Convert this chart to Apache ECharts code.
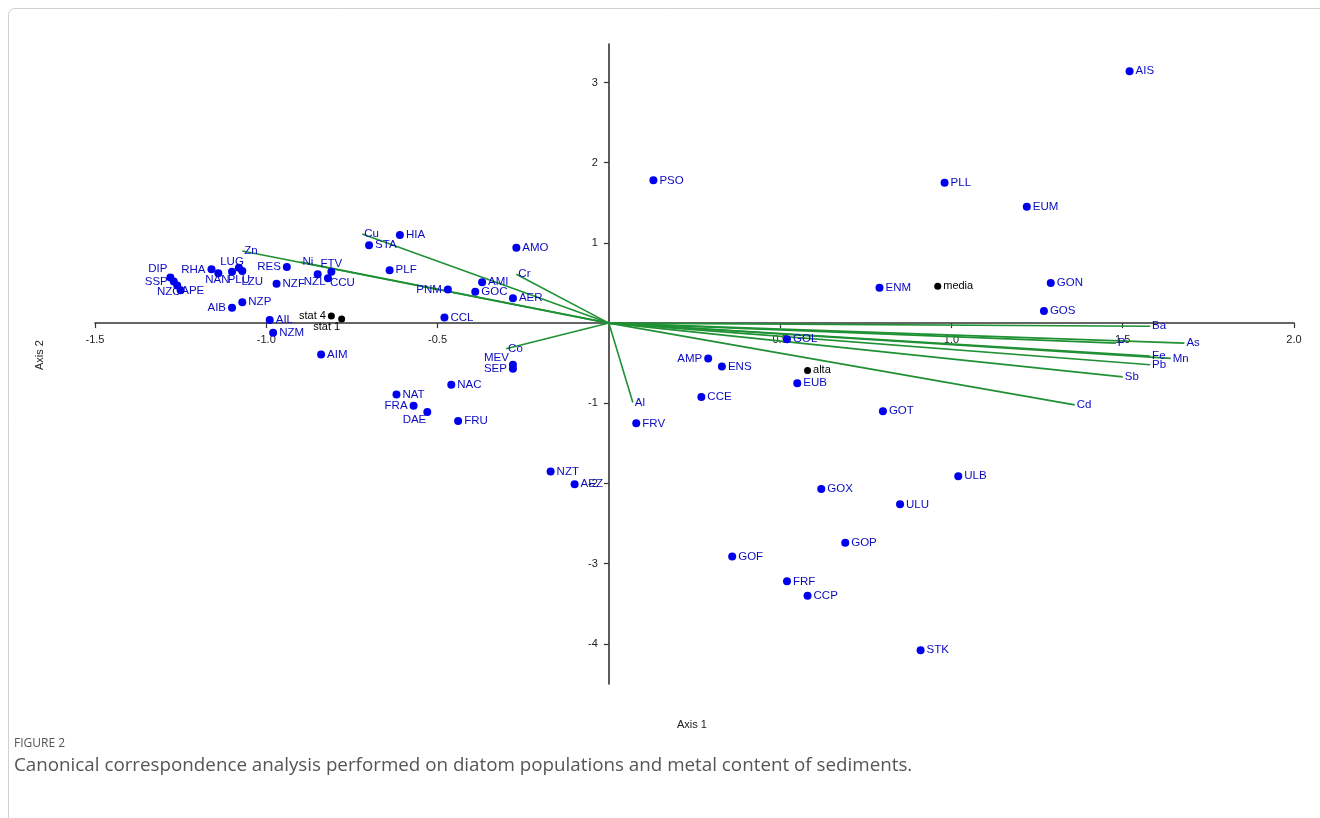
<!DOCTYPE html>
<html>
<head>
<meta charset="utf-8">
<script src="https://cdn.jsdelivr.net/npm/echarts@6/dist/echarts.min.js"></script>
<style>
  html, body { margin: 0; padding: 0; background: #fff; }
  #chart { width: 1320px; height: 818px; }
</style>
</head>
<body>
<div id="chart"></div>
<script>
// CCA ordination scores: diatom taxa (axis 1, axis 2)
const speciesNames = ['AIS','PSO','PLL','EUM','GON','GOS','ENM','AMO','HIA','STA','PLF','AMI','GOC','AER','PNM','CCL',
  'FTV','NZL','CCU','RES','NZF','LUG','PLU','LZU','NAN','RHA','DIP','SSP','APE','NZC','AIB','NZP','AIL','NZM','AIM',
  'NAC','NAT','FRA','DAE','FRU','MEV','SEP','NZT','AEZ','AMP','ENS','CCE','FRV','GOL','EUB','GOT','ULB','GOX','ULU',
  'GOP','GOF','FRF','CCP','STK'];
const speciesAxis1 = [1.52,0.13,0.98,1.22,1.29,1.27,0.79,-0.27,-0.61,-0.70,-0.64,-0.37,-0.39,-0.28,-0.47,-0.48,
  -0.81,-0.85,-0.82,-0.94,-0.97,-1.10,-1.08,-1.07,-1.14,-1.16,-1.28,-1.27,-1.26,-1.25,-1.10,-1.07,-0.99,-0.98,-0.84,
  -0.46,-0.62,-0.57,-0.53,-0.44,-0.28,-0.28,-0.17,-0.10,0.29,0.33,0.27,0.08,0.52,0.55,0.80,1.02,0.62,0.85,
  0.69,0.36,0.52,0.58,0.91];
const speciesAxis2 = [3.14,1.78,1.75,1.45,0.50,0.15,0.44,0.94,1.10,0.97,0.66,0.51,0.39,0.31,0.42,0.07,
  0.64,0.61,0.56,0.70,0.49,0.64,0.69,0.65,0.62,0.67,0.57,0.52,0.47,0.41,0.19,0.26,0.04,-0.12,-0.39,
  -0.77,-0.89,-1.03,-1.11,-1.22,-0.52,-0.57,-1.85,-2.01,-0.44,-0.54,-0.92,-1.25,-0.20,-0.75,-1.10,-1.91,-2.07,-2.26,
  -2.74,-2.91,-3.22,-3.40,-4.08];

// Sampling stations
const stationNames = ['media','alta','stat 4','stat 1'];
const stationAxis1 = [0.96, 0.58, -0.81, -0.78];
const stationAxis2 = [0.46, -0.59, 0.09, 0.05];

// Metal biplot arrows (tips)
const metalNames = ['Zn','Ni','Cu','Cr','Co','Al','Ba','As','P','Fe','Mn','Pb','Sb','Cd'];
const metalAxis1 = [-1.07,-0.90,-0.72,-0.27,-0.30,0.07,1.58,1.68,1.48,1.58,1.64,1.58,1.50,1.36];
const metalAxis2 = [0.90,0.76,1.11,0.61,-0.32,-0.99,-0.04,-0.25,-0.25,-0.41,-0.44,-0.52,-0.67,-1.02];

// Tick positions
const xTicks = [-1.5, -1.0, -0.5, 0.5, 1.0, 1.5, 2.0];
const yTicks = [-4, -3, -2, -1, 1, 2, 3];

// Where a label sits relative to its dot: [position, dx, dy]
const labelPlacement = {
  FTV: ['top', 0, 4], NZL: ['bottom', -3, -4], CCU: ['right', -4, 5], RES: ['left', 0, 0],
  LUG: ['top', 0, 2], NAN: ['bottom', -1, -6], PLU: ['bottom', 0, 0], LZU: ['bottom', 10, -1],
  RHA: ['left', 0, 0], DIP: ['left', 3, -9], SSP: ['left', 0, 0], NZC: ['left', 6, 2], APE: ['right', -2, 5],
  AIB: ['left', 0, 0], PNM: ['left', 0, 0], FRA: ['left', 0, 0], DAE: ['left', 5, 8],
  MEV: ['left', 2, -7], SEP: ['left', 0, 0], AMP: ['left', 0, 0],
  'stat 4': ['left', 0, 0], 'stat 1': ['left', 4, 8]
};

const FONT = '"Liberation Sans", Arial, sans-serif';
const BLUE = '#0000ee';
const BLUE_TEXT = '#0a0ac0';
const GREEN = '#1f9134';
const AXIS = '#333';

function pointItem(name, x, y) {
  const p = labelPlacement[name] || ['right', 0, 0];
  return { name: name, value: [x, y], label: { position: p[0], offset: [p[1], p[2]] } };
}

const speciesData = speciesNames.map((n, i) => pointItem(n, speciesAxis1[i], speciesAxis2[i]));
const stationData = stationNames.map((n, i) => pointItem(n, stationAxis1[i], stationAxis2[i]));
const arrowData = metalNames.map((n, i) => ({ name: n, coords: [[0, 0], [metalAxis1[i], metalAxis2[i]]] }));
const arrowTips = metalNames.map((n, i) => ({ name: n, value: [metalAxis1[i], metalAxis2[i]] }));

// Tick labels sit beside the axes that cross at the origin
const xTickLabels = xTicks.map(v => ({ name: v.toFixed(1), value: [v, 0] }));
const yTickLabels = yTicks.map(v => ({ name: String(v), value: [0, v] }));

const chart = echarts.init(document.getElementById('chart'), null, { renderer: 'canvas' });

const tickLabelStyle = { show: true, formatter: '{b}', color: '#222', fontSize: 11, fontFamily: FONT };

chart.setOption({
  animation: false,
  backgroundColor: '#fff',
  grid: { left: 95, right: 26, top: 44, bottom: 134 },
  xAxis: {
    type: 'value', min: -1.5, max: 2.0,
    axisLine: { show: true, onZero: true, lineStyle: { color: AXIS, width: 1.6 } },
    axisTick: { show: true, customValues: xTicks, length: 5, lineStyle: { color: AXIS, width: 1.2 } },
    axisLabel: { show: false },
    splitLine: { show: false }
  },
  yAxis: {
    type: 'value', min: -4.5, max: 3.48,
    axisLine: { show: true, onZero: true, lineStyle: { color: AXIS, width: 1.6 } },
    axisTick: { show: true, customValues: yTicks, length: 5, lineStyle: { color: AXIS, width: 1.2 } },
    axisLabel: { show: false },
    splitLine: { show: false }
  },
  series: [
    {
      type: 'scatter', z: 1, symbolSize: 0, silent: true,
      itemStyle: { opacity: 1 },
      label: Object.assign({ position: 'bottom', distance: 11 }, tickLabelStyle),
      data: xTickLabels
    },
    {
      type: 'scatter', z: 1, symbolSize: 0, silent: true,
      itemStyle: { opacity: 1 },
      label: Object.assign({ position: 'left', distance: 11 }, tickLabelStyle),
      data: yTickLabels
    },
    {
      type: 'lines', coordinateSystem: 'cartesian2d', z: 2,
      lineStyle: { color: GREEN, width: 1.6, opacity: 1 },
      data: arrowData
    },
    {
      type: 'scatter', z: 3, symbolSize: 0, silent: true,
      itemStyle: { opacity: 1 },
      label: { show: true, position: 'right', distance: 2, formatter: '{b}',
        color: BLUE_TEXT, fontSize: 11.5, fontFamily: FONT },
      data: arrowTips
    },
    {
      type: 'scatter', z: 4, symbol: 'circle', symbolSize: 8,
      itemStyle: { color: BLUE, opacity: 1 },
      label: { show: true, position: 'right', distance: 2, formatter: '{b}',
        color: BLUE_TEXT, fontSize: 11.5, fontFamily: FONT },
      data: speciesData
    },
    {
      type: 'scatter', z: 5, symbol: 'circle', symbolSize: 7,
      itemStyle: { color: '#000', opacity: 1 },
      label: { show: true, position: 'right', distance: 2, formatter: '{b}',
        color: '#000', fontSize: 11, fontFamily: FONT },
      data: stationData
    }
  ],
  graphic: [
    { type: 'rect', silent: true, z: 0,
      shape: { x: 8.5, y: 8.5, width: 1400, height: 900, r: 6 },
      style: { fill: 'none', stroke: '#d0d0d0', lineWidth: 1 } },
    { type: 'text', left: 677, top: 719,
      style: { text: 'Axis 1', fill: '#222', font: '11px ' + FONT } },
    { type: 'text', x: 34, y: 370, rotation: Math.PI / 2,
      style: { text: 'Axis 2', fill: '#222', font: '11px ' + FONT } },
    { type: 'text', left: 14, top: 738,
      style: { text: 'FIGURE 2', fill: '#555', font: '12px "Open Sans", "Noto Sans", sans-serif' } },
    { type: 'text', left: 14, top: 756,
      style: { text: 'Canonical correspondence analysis performed on diatom populations and metal content of sediments.',
        fill: '#555', font: '18.8px "Open Sans", "Noto Sans", sans-serif' } }
  ]
});
</script>
</body>
</html>
